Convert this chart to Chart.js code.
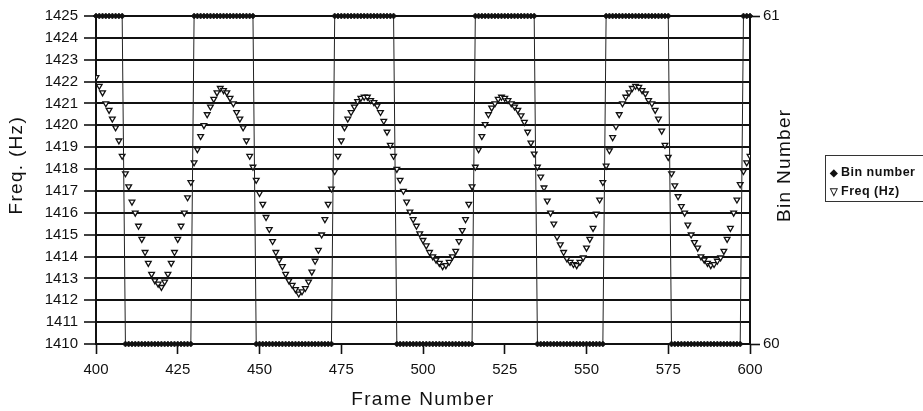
<!DOCTYPE html>
<html>
<head>
<meta charset="utf-8">
<title>Freq / Bin number vs Frame Number</title>
<script src="https://cdn.jsdelivr.net/npm/chart.js@4/dist/chart.umd.min.js"></script>
<style>
    html, body { margin: 0; padding: 0; background: #fff; }
    #wrap { position: relative; width: 923px; height: 411px; overflow: hidden; }
    #freqChart { display: block; }
    .legend-box {
        position: absolute;
        left: 825px;
        top: 155px;
        width: 110px;
        height: 45px;
        border: 1px solid #333;
        font-family: 'Liberation Sans', Arial, sans-serif;
        font-size: 12.5px;
        font-weight: bold;
        letter-spacing: 0.5px;
        color: #111;
    }
    .legend-row { position: absolute; left: 4px; height: 16px; line-height: 16px; white-space: nowrap; }
    .legend-row .sym { display: inline-block; width: 11px; font-size: 10px; }
</style>
</head>
<body>
<div id="wrap">
    <canvas id="freqChart" width="923" height="411"></canvas>
    <div class="legend-box">
        <div class="legend-row" style="top: 8px;"><span class="sym">&#9670;</span>Bin number</div>
        <div class="legend-row" style="top: 27px;"><span class="sym">&#9661;</span>Freq (Hz)</div>
    </div>
</div>

<script>
// ========================================
// DATA
// ========================================
const frameStart = 400;
const frameEnd = 600;

// one sample per frame, 400..600
const frameNumbers = Array.from({ length: frameEnd - frameStart + 1 }, (_, i) => frameStart + i);

const freqHz = [
    1422.2, 1421.8, 1421.5, 1421.0, 1420.7, 1420.3, 1419.9, 1419.3, 1418.6, 1417.8,   // 400
    1417.2, 1416.5, 1416.0, 1415.4, 1414.8, 1414.2, 1413.7, 1413.2, 1412.9, 1412.75,  // 410
    1412.6, 1412.85, 1413.2, 1413.7, 1414.2, 1414.8, 1415.4, 1416.0, 1416.7, 1417.4,  // 420
    1418.3, 1418.9, 1419.5, 1420.0, 1420.5, 1420.85, 1421.2, 1421.5, 1421.7, 1421.6,  // 430
    1421.5, 1421.25, 1421.0, 1420.6, 1420.3, 1419.9, 1419.3, 1418.6, 1418.1, 1417.5,  // 440
    1416.9, 1416.4, 1415.8, 1415.25, 1414.7, 1414.2, 1413.85, 1413.55, 1413.2, 1412.9, // 450
    1412.7, 1412.5, 1412.3, 1412.4, 1412.55, 1412.85, 1413.3, 1413.8, 1414.3, 1415.0, // 460
    1415.7, 1416.4, 1417.1, 1417.9, 1418.6, 1419.3, 1419.9, 1420.3, 1420.6, 1420.85,  // 470
    1421.1, 1421.25, 1421.3, 1421.3, 1421.15, 1421.05, 1420.9, 1420.6, 1420.2, 1419.7, // 480
    1419.1, 1418.6, 1418.0, 1417.5, 1417.0, 1416.5, 1416.05, 1415.7, 1415.4, 1415.05, // 490
    1414.75, 1414.5, 1414.2, 1414.0, 1413.85, 1413.7, 1413.55, 1413.6, 1413.75, 1414.0, // 500
    1414.25, 1414.7, 1415.2, 1415.7, 1416.4, 1417.2, 1418.1, 1418.9, 1419.5, 1420.05, // 510
    1420.5, 1420.8, 1421.0, 1421.2, 1421.3, 1421.25, 1421.15, 1421.0, 1420.85, 1420.7, // 520
    1420.45, 1420.15, 1419.7, 1419.2, 1418.7, 1418.1, 1417.65, 1417.15, 1416.55, 1416.0, // 530
    1415.5, 1414.9, 1414.55, 1414.2, 1413.9, 1413.75, 1413.65, 1413.6, 1413.75, 1413.95, // 540
    1414.4, 1414.8, 1415.3, 1415.95, 1416.6, 1417.4, 1418.15, 1418.85, 1419.45, 1419.95, // 550
    1420.5, 1421.0, 1421.3, 1421.5, 1421.7, 1421.8, 1421.75, 1421.6, 1421.45, 1421.15, // 560
    1421.0, 1420.7, 1420.3, 1419.75, 1419.1, 1418.55, 1417.8, 1417.25, 1416.75, 1416.3, // 570
    1416.0, 1415.45, 1415.0, 1414.65, 1414.4, 1414.0, 1413.85, 1413.7, 1413.6, 1413.65, // 580
    1413.8, 1413.95, 1414.25, 1414.8, 1415.3, 1416.0, 1416.6, 1417.3, 1417.9, 1418.3,  // 590
    1418.6                                                                              // 600
];

const binNumber = [
    61, 61, 61, 61, 61, 61, 61, 61, 61, 60,   // 400
    60, 60, 60, 60, 60, 60, 60, 60, 60, 60,   // 410
    60, 60, 60, 60, 60, 60, 60, 60, 60, 60,   // 420
    61, 61, 61, 61, 61, 61, 61, 61, 61, 61,   // 430
    61, 61, 61, 61, 61, 61, 61, 61, 61, 60,   // 440
    60, 60, 60, 60, 60, 60, 60, 60, 60, 60,   // 450
    60, 60, 60, 60, 60, 60, 60, 60, 60, 60,   // 460
    60, 60, 60, 61, 61, 61, 61, 61, 61, 61,   // 470
    61, 61, 61, 61, 61, 61, 61, 61, 61, 61,   // 480
    61, 61, 60, 60, 60, 60, 60, 60, 60, 60,   // 490
    60, 60, 60, 60, 60, 60, 60, 60, 60, 60,   // 500
    60, 60, 60, 60, 60, 60, 61, 61, 61, 61,   // 510
    61, 61, 61, 61, 61, 61, 61, 61, 61, 61,   // 520
    61, 61, 61, 61, 61, 60, 60, 60, 60, 60,   // 530
    60, 60, 60, 60, 60, 60, 60, 60, 60, 60,   // 540
    60, 60, 60, 60, 60, 60, 61, 61, 61, 61,   // 550
    61, 61, 61, 61, 61, 61, 61, 61, 61, 61,   // 560
    61, 61, 61, 61, 61, 61, 60, 60, 60, 60,   // 570
    60, 60, 60, 60, 60, 60, 60, 60, 60, 60,   // 580
    60, 60, 60, 60, 60, 60, 60, 60, 61, 61,   // 590
    61                                        // 600
];

const freqTicks = { min: 1410, max: 1425, step: 1 };
const binTicks = { min: 60, max: 61, step: 1 };
const frameTicks = { min: 400, max: 600, step: 25 };

const titles = {
    x: 'Frame Number',
    yLeft: 'Freq. (Hz)',
    yRight: 'Bin Number'
};

// ========================================
// AXIS TITLES (drawn by hand so "Bin Number" reads bottom-up)
// ========================================
const axisTitlePlugin = {
    id: 'axisTitles',
    afterDraw(chart) {
        const ctx = chart.ctx;
        const area = chart.chartArea;
        const midY = area.top + (area.bottom - area.top) * 0.455;

        ctx.save();
        ctx.fillStyle = '#111';
        ctx.font = '19px "Liberation Sans", Arial, sans-serif';
        ctx.textAlign = 'center';
        ctx.textBaseline = 'middle';
        if ('letterSpacing' in ctx) ctx.letterSpacing = '1.3px';

        // bottom
        ctx.fillText(titles.x, (area.left + area.right) / 2, 400);

        // left
        ctx.save();
        ctx.translate(17, midY);
        ctx.rotate(-Math.PI / 2);
        ctx.fillText(titles.yLeft, 0, 0);
        ctx.restore();

        // right
        ctx.save();
        ctx.translate(area.right + 35, midY);
        ctx.rotate(-Math.PI / 2);
        ctx.fillText(titles.yRight, 0, 0);
        ctx.restore();

        ctx.restore();
    }
};

// ========================================
// INITIALIZE CHART
// ========================================
document.addEventListener('DOMContentLoaded', function() {
    initFreqChart();
});

function initFreqChart() {
    const canvas = document.getElementById('freqChart');

    if (!canvas || typeof Chart === 'undefined') {
        console.error('Chart.js not loaded or canvas not found');
        return;
    }

    const tickFont = { family: "'Liberation Sans', Arial, sans-serif", size: 15 };
    const plainLabel = (value) => String(value);

    const binPoints = frameNumbers.map((f, i) => ({ x: f, y: binNumber[i] }));
    const freqPoints = frameNumbers.map((f, i) => ({ x: f, y: freqHz[i] }));

    window.freqChart = new Chart(canvas, {
        type: 'line',
        data: {
            datasets: [
                {
                    label: 'Bin number',
                    data: binPoints,
                    yAxisID: 'y2',
                    clip: false,
                    borderColor: '#222',
                    borderWidth: 1,
                    pointStyle: 'rectRot',
                    pointRadius: 3,
                    pointBackgroundColor: '#111',
                    pointBorderColor: '#111',
                    pointBorderWidth: 0.6,
                    tension: 0,
                    fill: false
                },
                {
                    label: 'Freq (Hz)',
                    data: freqPoints,
                    yAxisID: 'y',
                    showLine: false,
                    pointStyle: 'triangle',
                    rotation: 180,
                    pointRadius: 3.3,
                    pointBackgroundColor: '#fff',
                    pointBorderColor: '#111',
                    pointBorderWidth: 1.3
                }
            ]
        },
        options: {
            responsive: false,
            animation: false,
            layout: {
                padding: { top: 16, left: 0, right: 0, bottom: 0 }
            },
            plugins: {
                legend: { display: false },
                tooltip: { enabled: false }
            },
            scales: {
                x: {
                    type: 'linear',
                    min: frameTicks.min,
                    max: frameTicks.max,
                    afterFit: (scale) => { scale.height = 67; },
                    ticks: {
                        stepSize: frameTicks.step,
                        color: '#111',
                        padding: 7,
                        maxRotation: 0,
                        font: tickFont,
                        callback: plainLabel
                    },
                    grid: {
                        drawOnChartArea: false,
                        tickLength: 10,
                        tickColor: '#111',
                        tickWidth: 1.6
                    },
                    border: { display: true, color: '#111', width: 2 }
                },
                y: {
                    position: 'left',
                    min: freqTicks.min,
                    max: freqTicks.max,
                    afterFit: (scale) => { scale.width = 96; },
                    ticks: {
                        stepSize: freqTicks.step,
                        color: '#111',
                        padding: 6,
                        font: tickFont,
                        callback: plainLabel
                    },
                    grid: {
                        color: '#111',
                        lineWidth: 2,
                        tickLength: 12,
                        tickColor: '#111',
                        tickWidth: 1.6
                    },
                    border: { display: true, color: '#111', width: 2 }
                },
                y2: {
                    position: 'right',
                    min: binTicks.min,
                    max: binTicks.max,
                    afterFit: (scale) => { scale.width = 173; },
                    ticks: {
                        stepSize: binTicks.step,
                        color: '#111',
                        padding: 3,
                        font: tickFont,
                        callback: plainLabel
                    },
                    grid: {
                        drawOnChartArea: false,
                        tickLength: 10,
                        tickColor: '#111',
                        tickWidth: 1.6
                    },
                    border: { display: true, color: '#111', width: 2 }
                }
            }
        },
        plugins: [axisTitlePlugin]
    });
}
</script>
</body>
</html>
